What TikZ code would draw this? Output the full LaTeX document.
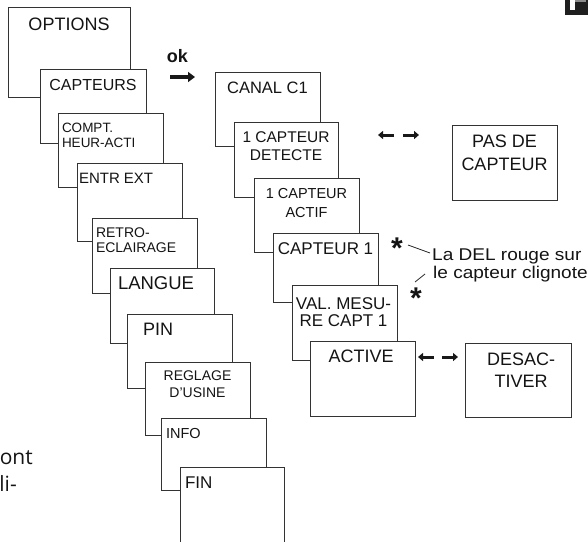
\documentclass[tikz,border=0pt]{standalone}
\usepackage{fontspec}
\setmainfont{Liberation Sans}
\newfontfamily\sidefont{Open Sans}
\newfontfamily\notefont{Liberation Sans}[FakeStretch=1.12]
\usetikzlibrary{arrows.meta}
\newcommand\fsz[2]{\fontsize{#1pt}{#2pt}\selectfont}
\begin{document}
\begin{tikzpicture}[x=1pt,y=-1pt,
  box/.style={draw=black!80, fill=white, line width=0.8pt, inner sep=0pt, outer sep=0pt, anchor=north west},
  lbl/.style={inner sep=0pt, outer sep=0pt, anchor=north, align=center, text=black!92},
  lbll/.style={inner sep=0pt, outer sep=0pt, anchor=north west, align=left, text=black!92},
  blockarrow/.style={line width=3pt, draw=black!90, -{Triangle[length=5pt,width=8pt]}},
  leader/.style={line width=0.8pt, draw=black!85},
  star/.style={inner sep=0pt, outer sep=0pt, anchor=north, text=black!92, font=\fsz{30}{30}\bfseries},
  note/.style={inner sep=0pt, anchor=base west, font=\notefont\fsz{17}{19}, text=black!92}
]
\clip (0,0) rectangle (588,541);
\fill[white] (0,0) rectangle (588,541);

% left column
\node[box, minimum width=122pt, minimum height=90pt] (opt) at (8,7) {};
\node[lbl, font=\fsz{18}{20}] (opt-t) at (69,18) {OPTIONS};
\node[box, minimum width=106pt, minimum height=74pt] (capt) at (40,69) {};
\node[lbl, font=\fsz{16}{18}] (capt-t) at (93,79) {CAPTEURS};
\node[box, minimum width=105pt, minimum height=74pt] (compt) at (58,113) {};
\node[lbll, font=\fsz{13.5}{15}] (compt-t) at (62,123) {COMPT.\\HEUR-ACTI};
\node[box, minimum width=105pt, minimum height=78pt] (entr) at (77,163) {};
\node[lbll, font=\fsz{15}{17}] (entr-t) at (79,173) {ENTR EXT};
\node[box, minimum width=105pt, minimum height=75pt] (retro) at (92,218) {};
\node[lbll, font=\fsz{14}{15}] (retro-t) at (96,228) {RETRO-\\ECLAIRAGE};
\node[box, minimum width=104pt, minimum height=75pt] (langue) at (110,268) {};
\node[lbll, font=\fsz{18.5}{20}] (langue-t) at (118,277) {LANGUE};
\node[box, minimum width=105pt, minimum height=74pt] (pin) at (127,314) {};
\node[lbll, font=\fsz{18}{20}] (pin-t) at (143,323) {PIN};
\node[box, minimum width=105pt, minimum height=73pt] (reglage) at (145,362) {};
\node[lbl, font=\fsz{14}{17}] (reglage-t) at (197.5,371) {REGLAGE\\D'USINE};
\node[box, minimum width=105pt, minimum height=72pt] (info) at (161,418) {};
\node[lbll, font=\fsz{14.5}{18}] (info-t) at (166,428) {INFO};
\node[box, minimum width=104pt, minimum height=90pt] (fin) at (180,467) {};
\node[lbll, font=\fsz{17}{19}] (fin-t) at (185,477) {FIN};

% ok arrow
\node[inner sep=0pt, anchor=base, font=\fsz{18}{20}\bfseries, text=black!92] (ok) at (177.5,62) {ok};
\coordinate (okA) at (170,77);
\coordinate (okB) at (195,77);
\draw[line width=4pt, draw=black!90, -{Triangle[length=7pt,width=10pt]}] (okA) -- (okB);

% right column
\node[box, minimum width=105pt, minimum height=74pt] (canal) at (215,72) {};
\node[lbl, font=\fsz{16.5}{18}] (canal-t) at (267.5,82) {CANAL C1};
\node[box, minimum width=104pt, minimum height=75pt] (det) at (234,122) {};
\node[lbl, font=\fsz{15.5}{18}] (det-t) at (286,132) {1 CAPTEUR\\DETECTE};
\node[box, minimum width=105pt, minimum height=74pt] (actif) at (254,178) {};
\node[lbl, font=\fsz{14.5}{19}] (actif-t) at (306.5,188) {1 CAPTEUR\\ACTIF};
\node[box, minimum width=105pt, minimum height=69pt] (capt1) at (273,233) {};
\node[lbl, font=\fsz{17}{19}] (capt1-t) at (325.5,243) {CAPTEUR 1};
\node[box, minimum width=105pt, minimum height=75pt] (val) at (292,285) {};
\node[lbl, font=\fsz{17}{17.5}] (val-t) at (343.5,297.5) {VAL. MESU-\\RE CAPT 1};
\node[box, minimum width=105pt, minimum height=75pt] (active) at (310,341) {};
\node[lbl, font=\fsz{18}{20}] (active-t) at (361,350) {ACTIVE};

\node[box, minimum width=106pt, minimum height=74pt] (desact) at (465,343) {};
\node[lbl, font=\fsz{18}{22}] (desact-t) at (521,353) {DESAC-\\TIVER};
\node[box, minimum width=105pt, minimum height=75pt] (pas) at (452,125) {};
\node[lbl, font=\fsz{18}{23}] (pas-t) at (504.5,135) {PAS DE\\CAPTEUR};

% double arrows
\coordinate (d1) at (394,135); \coordinate (d2) at (378,135);
\coordinate (d3) at (403,135); \coordinate (d4) at (419,135);
\draw[blockarrow] (d1) -- (d2);
\draw[blockarrow] (d3) -- (d4);
\coordinate (a1) at (434,357); \coordinate (a2) at (418,357);
\coordinate (a3) at (442,357); \coordinate (a4) at (458,357);
\draw[blockarrow] (a1) -- (a2);
\draw[blockarrow] (a3) -- (a4);

% note
\node[star] (s1) at (397,238) {*};
\node[star] (s2) at (416,288) {*};
\node[note] (n1) at (432,260) {La DEL rouge sur};
\node[note] (n2) at (433,278) {le capteur clignote};
\coordinate (l1a) at (408,245); \coordinate (l1b) at (430,253);
\coordinate (l2a) at (415,282); \coordinate (l2b) at (425,274);
\draw[leader] (l1a) -- (l1b);
\draw[leader] (l2a) -- (l2b);

% side text from facing page
\node[inner sep=0pt, anchor=base east, font=\sidefont\fsz{21}{27}, text=black!92] (side1) at (33,464) {ont};
\node[inner sep=0pt, anchor=base east, font=\sidefont\fsz{21}{27}, text=black!92] (side2) at (17,491) {li-};

% page tab
\fill[black!88] (565,0) rectangle (588,15);
\fill[white] (570,0) rectangle (575,10);
\fill[black!45] (575,0) rectangle (586,2);
\end{tikzpicture}
\end{document}
